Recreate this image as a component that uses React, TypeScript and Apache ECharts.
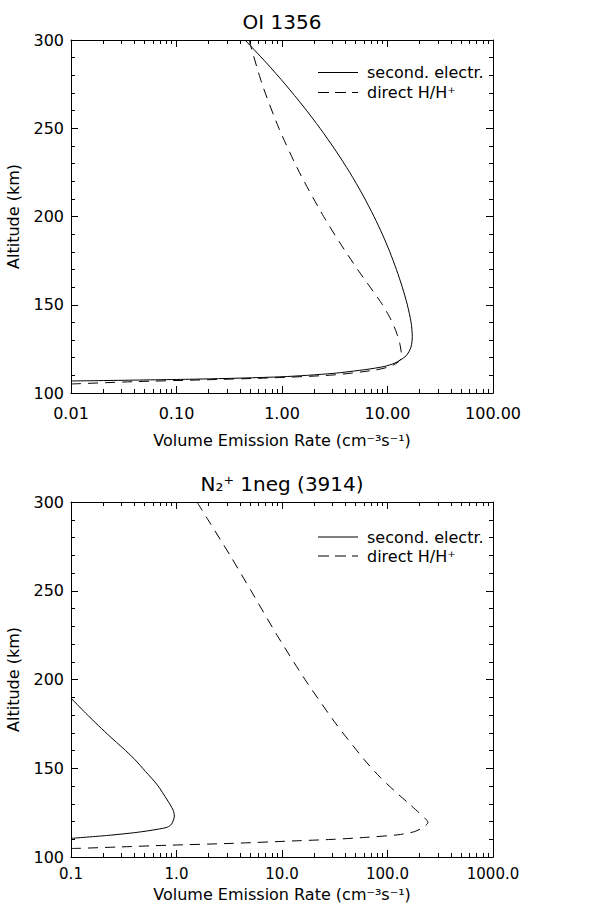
import React, { useEffect, useRef } from "react";
import * as echarts from "echarts";

// ---- Data ----
// Panel 1: OI 1356
const oiSecAlt = [300, 287, 275, 262, 250, 237, 225, 212, 200, 190, 180, 170, 160, 150, 140, 132, 126, 121, 117, 115, 113.4, 111.1, 109.2, 107.9, 106.8];
const oiSecVal = [0.446, 0.713, 1.07, 1.613, 2.292, 3.257, 4.383, 5.858, 7.447, 8.929, 10.51, 12.14, 13.81, 15.41, 16.74, 17.18, 16.7, 14.98, 11.78, 9.26, 6.39, 3.04, 1.0, 0.167, 0.01];
const oiDirAlt = [300, 275, 250, 225, 200, 185, 170, 160, 150, 142, 135, 128, 123, 120.5, 117.5, 115, 113, 110.2, 108.5, 107.4, 106.4, 105.1];
const oiDirVal = [0.487, 0.648, 0.935, 1.462, 2.48, 3.546, 5.206, 6.842, 8.967, 10.68, 12.04, 13.08, 13.51, 13.66, 12.58, 10.56, 7.61, 3.04, 0.72, 0.167, 0.0387, 0.01];

// Panel 2: N2+ 1neg (3914)
const n2SecAlt = [189.5, 181, 173.9, 167.8, 161.3, 155.1, 148.1, 140.6, 132.1, 126.5, 123.1, 118.6, 116.8, 115.6, 113.9, 112.2, 110.5];
const n2SecVal = [0.1, 0.138, 0.183, 0.235, 0.311, 0.40, 0.51, 0.658, 0.818, 0.927, 0.955, 0.90, 0.818, 0.658, 0.425, 0.227, 0.1];
const n2DirAlt = [300, 290, 270, 250, 225, 200, 175, 155, 145, 137, 130, 125, 121.5, 119.5, 117, 114.3, 112.5, 111.1, 110, 109.2, 107.7, 106.6, 105.6, 104.9, 104.8];
const n2DirVal = [1.564, 1.989, 3.215, 5.085, 8.968, 16.52, 32.5, 59.9, 84.9, 117.8, 159.9, 198.9, 229.2, 242, 221.8, 180, 125, 63.5, 32, 14.8, 3.45, 0.81, 0.27, 0.122, 0.1];

const topDecades = [0.01, 0.1, 1, 10, 100];
const botDecades = [0.1, 1, 10, 100, 1000];
const altMin = 100;
const altMax = 300;
const altInterval = 50;

const seriesNames = ["second. electr.", "direct H/H\u207A"];
const titles = ["OI 1356", "N\u2082\u207A 1neg (3914)"];
const xTitle = "Volume Emission Rate (cm\u207B\u00B3s\u207B\u00B9)";
const yTitle = "Altitude (km)";

const FONT = "DejaVu Sans";
const DASH = [10, 7];

function minorTicks(decades: number[]) {
  const out: number[] = [];
  for (let i = 0; i < decades.length - 1; i++) {
    for (let k = 2; k <= 9; k++) out.push(+(decades[i] * k).toPrecision(3));
  }
  return out;
}

function zip(xs: number[], ys: number[]) {
  return xs.map((x, i) => [x, ys[i]]);
}

export default function App() {
  const ref = useRef<HTMLDivElement>(null);
  useEffect(() => {
    if (!ref.current) return;
    const chart = echarts.init(ref.current, null, { renderer: "svg" });

    const grids = [
      { left: 71, top: 40, width: 422, height: 353 },
      { left: 71, top: 502, width: 422, height: 355 },
    ];
    const decs = [topDecades, botDecades];
    const fixed = [2, 1];
    const labelMargins = [12, 9];
    const labelSizes = [16, 15];
    const nameGaps = [38, 28];

    const xAxes: any[] = [];
    const yAxes: any[] = [];
    grids.forEach((_, g) => {
      const d = decs[g];
      const base = {
        gridIndex: g,
        type: "log",
        logBase: 10,
        min: d[0],
        max: d[d.length - 1],
        splitLine: { show: false },
      };
      const line = { show: true, lineStyle: { color: "#000", width: 1 } };
      xAxes.push({
        ...base,
        position: "bottom",
        axisLine: line,
        axisTick: { show: true, inside: true, length: 7, customValues: d, lineStyle: { color: "#000" } },
        axisLabel: {
          show: true,
          customValues: d,
          margin: labelMargins[g],
          color: "#000",
          fontFamily: FONT,
          fontSize: labelSizes[g],
          formatter: (v: number) => Number(v).toFixed(fixed[g]),
        },
        name: xTitle,
        nameLocation: "middle",
        nameGap: nameGaps[g],
        nameTextStyle: { color: "#000", fontFamily: FONT, fontSize: 16, lineHeight: 18 },
      });
      xAxes.push({
        ...base,
        position: "bottom",
        axisLine: { show: false },
        axisTick: { show: true, inside: true, length: 4, customValues: minorTicks(d), lineStyle: { color: "#000" } },
        axisLabel: { show: false },
      });
      xAxes.push({
        ...base,
        position: "top",
        axisLine: line,
        axisTick: { show: true, inside: true, length: 7, customValues: d, lineStyle: { color: "#000" } },
        axisLabel: { show: false },
      });
      xAxes.push({
        ...base,
        position: "top",
        axisLine: { show: false },
        axisTick: { show: true, inside: true, length: 4, customValues: minorTicks(d), lineStyle: { color: "#000" } },
        axisLabel: { show: false },
      });

      const ybase = {
        gridIndex: g,
        type: "value",
        min: altMin,
        max: altMax,
        interval: altInterval,
        splitLine: { show: false },
        axisLine: line,
        axisTick: { show: true, inside: true, length: 7, lineStyle: { color: "#000" } },
        minorTick: { show: true, splitNumber: 5, length: 4, lineStyle: { color: "#000" } },
      };
      yAxes.push({
        ...ybase,
        position: "left",
        axisLabel: { show: true, margin: 7, color: "#000", fontFamily: FONT, fontSize: 16 },
        name: yTitle,
        nameLocation: "middle",
        nameGap: 50,
        nameRotate: 90,
        nameTextStyle: { color: "#000", fontFamily: FONT, fontSize: 16 },
      });
      yAxes.push({
        ...ybase,
        position: "right",
        axisLabel: { show: false },
      });
    });

    const mk = (g: number, xs: number[], ys: number[], dashed: boolean, name: string) => ({
      type: "line",
      name,
      xAxisIndex: g * 4,
      yAxisIndex: g * 2,
      data: zip(xs, ys),
      showSymbol: false,
      symbol: "none",
      smooth: 0.25,
      silent: true,
      lineStyle: { color: "#000", width: 1, type: dashed ? DASH : "solid" },
    });

    const legendY = [[72.5, 92.5], [537, 556]];
    const titleY = [22, 484];
    const graphics: any[] = [];
    [0, 1].forEach((g) => {
      graphics.push({
        type: "text",
        x: 282,
        y: titleY[g],
        style: { text: titles[g], fill: "#000", fontFamily: FONT, fontSize: 20, align: "center", verticalAlign: "middle" },
      });
      [0, 1].forEach((s) => {
        const y = legendY[g][s];
        graphics.push({
          type: "line",
          shape: { x1: 318, y1: y, x2: 358, y2: y },
          style: { stroke: "#000", lineWidth: 1, lineDash: s === 1 ? [11, 6] : null },
        });
        graphics.push({
          type: "text",
          x: 367,
          y: y,
          style: { text: seriesNames[s], fill: "#000", fontFamily: FONT, fontSize: 16, align: "left", verticalAlign: "middle" },
        });
      });
    });

    chart.setOption({
      animation: false,
      backgroundColor: "#fff",
      grid: grids.map((gr) => ({ ...gr, containLabel: false, outerBoundsMode: "none" })),
      xAxis: xAxes,
      yAxis: yAxes,
      series: [
        mk(0, oiSecVal, oiSecAlt, false, seriesNames[0]),
        mk(0, oiDirVal, oiDirAlt, true, seriesNames[1]),
        mk(1, n2SecVal, n2SecAlt, false, seriesNames[0]),
        mk(1, n2DirVal, n2DirAlt, true, seriesNames[1]),
      ],
      graphic: graphics,
    });
    return () => chart.dispose();
  }, []);
  return (
    <div
      ref={ref}
      style={{ position: "fixed", left: 0, top: 0, width: 611, height: 911, background: "#fff" }}
    />
  );
}
